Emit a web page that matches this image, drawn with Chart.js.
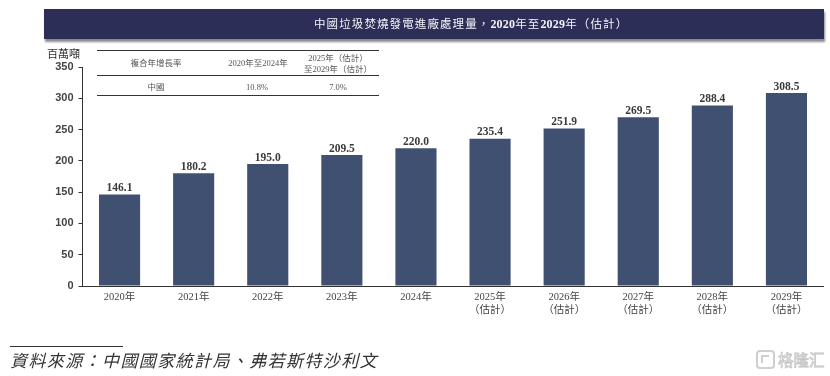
<!DOCTYPE html>
<html><head><meta charset="utf-8">
<script src="https://cdn.jsdelivr.net/npm/chart.js@4/dist/chart.umd.min.js"></script>
<style>
html,body{margin:0;padding:0;background:#fff;width:830px;height:376px;overflow:hidden}
#wrap{position:relative;width:830px;height:376px;font-family:"Liberation Serif","Noto Sans CJK TC",serif;color:#333}
canvas{position:absolute;left:0;top:0}
.abs{position:absolute;white-space:nowrap}
#banner{left:44px;top:9px;width:780px;height:30px;background:#2c2e58;box-shadow:1px 3px 2px #8a8a8a}
#title{left:270px;top:0;color:#f4f4f8;font-size:11.5px;line-height:30px;letter-spacing:1.1px}
#title b{letter-spacing:0.2px;font-size:12px}
.rule{position:absolute;background:#333;height:1px}
.cell{position:absolute;font-size:8.5px;color:#555;text-align:center;line-height:10.5px;white-space:nowrap;transform:translateX(-50%)}
#unit{left:47px;top:45px;font-size:11px;color:#333}
#src{left:10px;top:350px;font-size:17px;font-style:italic;letter-spacing:1.4px;color:#333;line-height:24px}
#mark{left:778px;top:350px;font-size:15.5px;color:#fff;-webkit-text-stroke:0.8px #c4c4c4;font-family:"Noto Sans CJK SC";line-height:19px}
#logo{position:absolute;left:756px;top:350px;width:19px;height:19px;border:2px solid #cfcfcf;border-radius:4px;box-sizing:border-box}
#logo i{position:absolute;left:3px;top:3px;width:8px;height:8px;border-left:2px solid #cfcfcf;border-top:2px solid #cfcfcf;box-sizing:border-box}
</style></head>
<body><div id="wrap">
<canvas id="c" width="830" height="376"></canvas>
<div id="banner" class="abs"><div id="title" class="abs">中國垃圾焚燒發電進廠處理量&#xFF0C;<b>2020</b>年至<b>2029</b>年&#xFF08;估計&#xFF09;</div></div>
<div id="unit" class="abs">百萬噸</div>
<div class="rule" style="left:97px;width:282px;top:50px"></div>
<div class="rule" style="left:97px;width:282px;top:75px"></div>
<div class="rule" style="left:97px;width:282px;top:95px"></div>
<div class="cell" style="left:156px;top:58px">複合年增長率</div>
<div class="cell" style="left:258px;top:58px">2020年至2024年</div>
<div class="cell" style="left:338px;top:53px">2025年&#xFF08;估計&#xFF09;<br>至2029年&#xFF08;估計&#xFF09;</div>
<div class="cell" style="left:156px;top:82px">中國</div>
<div class="cell" style="left:257px;top:82px">10.8%</div>
<div class="cell" style="left:338px;top:82px">7.0%</div>
<div class="rule" style="left:10px;width:113px;top:346px"></div>
<div id="src" class="abs">資料來源&#xFF1A;中國國家統計局、弗若斯特沙利文</div>
<div id="logo"><i></i></div>
<div id="mark" class="abs">格隆汇</div>
</div>
<script>
const categories=[["2020年"],["2021年"],["2022年"],["2023年"],["2024年"],["2025年","\uFF08估計\uFF09"],["2026年","\uFF08估計\uFF09"],["2027年","\uFF08估計\uFF09"],["2028年","\uFF08估計\uFF09"],["2029年","\uFF08估計\uFF09"]];
const values=[146.1,180.2,195.0,209.5,220.0,235.4,251.9,269.5,288.4,308.5];
const yTicks=[0,50,100,150,200,250,300,350];
const fam='"Liberation Serif","Noto Sans CJK TC",serif';
const labelPlugin={id:'vals',afterDatasetsDraw(ch){
  const m=ch.getDatasetMeta(0),x=ch.ctx;
  x.save();x.font='bold 11.5px '+fam;x.fillStyle='#3a3a3a';x.textAlign='center';x.textBaseline='bottom';
  m.data.forEach((b,i)=>x.fillText(values[i].toFixed(1),b.x,b.y-0.5));
  x.restore();
}};
new Chart(document.getElementById('c'),{
  type:'bar',
  data:{labels:categories,datasets:[{data:values,backgroundColor:'#3f5070',categoryPercentage:1,barPercentage:0.555}]},
  options:{responsive:false,animation:false,
    layout:{padding:{top:67,right:6.5,left:0,bottom:0}},
    plugins:{legend:{display:false},tooltip:{enabled:false}},
    scales:{
      x:{grid:{display:false,drawTicks:false},border:{color:'#333',width:1},
        ticks:{padding:5,color:'#444',font:{family:fam,size:10.5,lineHeight:1.25},maxRotation:0,autoSkip:false},
        afterFit(s){s.height=90}},
      y:{min:0,max:350,afterBuildTicks(s){s.ticks=yTicks.map(v=>({value:v}))},
        grid:{display:true,drawOnChartArea:false,drawTicks:true,tickLength:4,color:'#333'},border:{color:'#333',width:1},
        ticks:{padding:5,color:'#444',font:{family:'"Liberation Sans",sans-serif',size:11,weight:'bold'}},
        afterFit(s){s.width=82.5}}
    }},
  plugins:[labelPlugin]
});
</script>
</body></html>
